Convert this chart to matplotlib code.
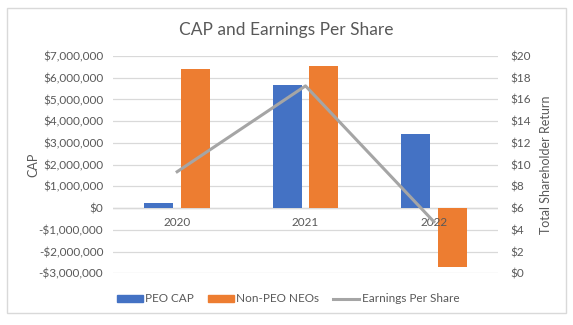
import numpy as np
import matplotlib
matplotlib.use("Agg")
import matplotlib.pyplot as plt
import matplotlib.ticker as mtick
from matplotlib.lines import Line2D
from matplotlib.patches import Patch, Rectangle

######################################### Data ######################
years = ["2020", "2021", "2022"]
peo_cap = [250000, 5680000, 3420000]
non_peo_neos = [6410000, 6550000, -2730000]
eps = [9.35, 17.25, 4.75]

left_ticks = [-3000000, -2000000, -1000000, 0, 1000000, 2000000, 3000000,
              4000000, 5000000, 6000000, 7000000]
right_ticks = [0, 2, 4, 6, 8, 10, 12, 14, 16, 18, 20]

# Excel-like colors
blue = '#4472C4'
orange = '#ED7D31'
grey = '#A5A5A5'
text_col = '#595959'
grid_col = '#D9D9D9'

plt.rcParams['font.family'] = ['Lato', 'DejaVu Sans']

######################################### Plot ######################
fig = plt.figure(figsize=(5.73, 3.25), dpi=100)
ax = fig.add_axes([113/573, 1-273.3/325, 385/573, 217.3/325])

x = np.arange(len(years))
w = 0.227
ax.bar(x - 0.143, peo_cap, width=w, color=blue, zorder=3)
ax.bar(x + 0.143, non_peo_neos, width=w, color=orange, zorder=3)

ax.set_xlim(-0.5, 2.5)
ax.set_ylim(left_ticks[0], left_ticks[-1])
ax.set_yticks(left_ticks)

def dollars(v, pos):
    if v < 0:
        return '-${:,.0f}'.format(-v)
    return '${:,.0f}'.format(v)

ax.yaxis.set_major_formatter(mtick.FuncFormatter(dollars))
ax.grid(axis='y', color=grid_col, linewidth=0.9, zorder=0)
ax.axhline(0, color=grid_col, linewidth=1.0, zorder=2)
ax.set_xticks([])
for s in ax.spines.values():
    s.set_visible(False)
ax.tick_params(axis='y', length=0, pad=7, labelsize=8.5, labelcolor=text_col)

# category labels sit next to the zero line
for i, yr in enumerate(years):
    ax.annotate(yr, xy=(i, 0), xytext=(0, -9), textcoords='offset pixels',
                ha='center', va='top', fontsize=8.5, color=text_col, zorder=4)

ax.set_ylabel('CAP', fontsize=9, color=text_col)
ax.yaxis.set_label_coords(-0.19, 0.5)

# right axis for earnings per share
ax2 = ax.twinx()
ax2.plot(x, eps, color=grey, linewidth=2.2, zorder=5)
ax2.set_ylim(right_ticks[0], right_ticks[-1])
ax2.set_yticks(right_ticks)
ax2.yaxis.set_major_formatter(mtick.FuncFormatter(lambda v, p: '${:.0f}'.format(v)))
for s in ax2.spines.values():
    s.set_visible(False)
ax2.tick_params(axis='y', length=0, pad=9, labelsize=8.5, labelcolor=text_col)
ax2.set_ylabel('Total Shareholder Return', fontsize=9, color=text_col)
ax2.yaxis.set_label_coords(1.108, 0.5)

fig.text(0.5, 1-30/325, 'CAP and Earnings Per Share', ha='center', va='center',
         fontsize=12.5, color=text_col)

# legend
handles = [Patch(color=blue, label='PEO CAP'),
           Patch(color=orange, label='Non-PEO NEOs'),
           Line2D([0], [0], color=grey, linewidth=2.2, label='Earnings Per Share')]
leg = fig.legend(handles=handles, loc='center', bbox_to_anchor=(288/573, 1-299/325),
                 ncol=3, frameon=False, fontsize=8.5, handlelength=2.2, handleheight=0.5,
                 handletextpad=0.2, columnspacing=1.2)
for t in leg.get_texts():
    t.set_color(text_col)

# chart border
fig.patches.append(Rectangle((7/573, 1-313/325), 559/573, 305/325, transform=fig.transFigure,
                             fill=False, edgecolor=grid_col, linewidth=1.0))

fig.savefig('out.png', dpi=100, facecolor='white')
